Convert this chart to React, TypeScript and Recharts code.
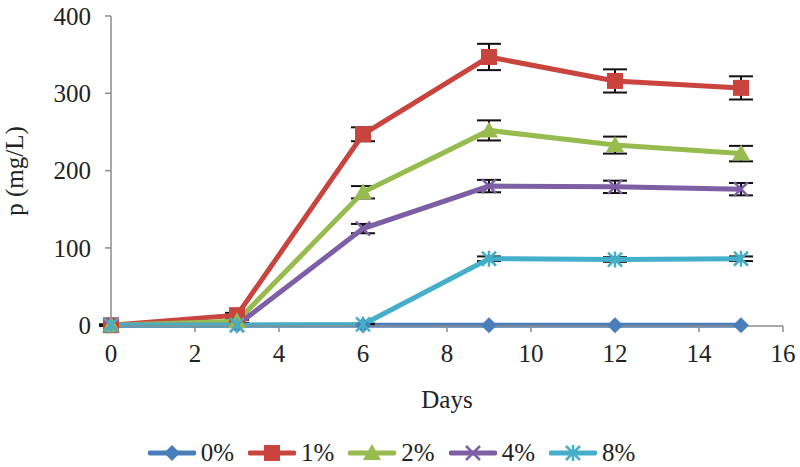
import React from "react";
import {
  LineChart,
  Line,
  XAxis,
  YAxis,
  ErrorBar,
  Legend,
} from "recharts";

const days = [0, 3, 6, 9, 12, 15];

const p0 = [0, 0, 0, 0, 0, 0];
const p1 = [0, 13, 247, 347, 316, 307];
const p2 = [0, 5, 172, 252, 233, 222];
const p4 = [0, 0, 125, 180, 179, 176];
const p8 = [0, 0, 1, 86, 85, 86];

const e0 = [0, 0, 0, 0, 0, 0];
const e1 = [1, 3, 9, 17, 15, 15];
const e2 = [1, 2, 8, 13, 11, 10];
const e4 = [0, 0, 6, 8, 8, 8];
const e8 = [0, 0, 1, 3, 3, 3];

const xTicks = [0, 2, 4, 6, 8, 10, 12, 14, 16];
const yTicks = [0, 100, 200, 300, 400];

type Shape = "diamond" | "square" | "triangle" | "x" | "star";

const series: { key: string; err: string; label: string; color: string; shape: Shape }[] = [
  { key: "p0", err: "e0", label: "0%", color: "#4a7ebb", shape: "diamond" },
  { key: "p1", err: "e1", label: "1%", color: "#c9443f", shape: "square" },
  { key: "p2", err: "e2", label: "2%", color: "#98bb4f", shape: "triangle" },
  { key: "p4", err: "e4", label: "4%", color: "#7d5fa5", shape: "x" },
  { key: "p8", err: "e8", label: "8%", color: "#45aec8", shape: "star" },
];

const data = days.map((d, i) => ({
  day: d,
  p0: p0[i],
  p1: p1[i],
  p2: p2[i],
  p4: p4[i],
  p8: p8[i],
  e0: e0[i],
  e1: e1[i],
  e2: e2[i],
  e4: e4[i],
  e8: e8[i],
}));

const FONT = "'Liberation Serif', 'DejaVu Serif', serif";

function Marker({ cx, cy, shape, color }: { cx: number; cy: number; shape: Shape; color: string }) {
  if (cx == null || cy == null) return null;
  switch (shape) {
    case "diamond":
      return (
        <polygon
          points={`${cx},${cy - 8} ${cx + 8},${cy} ${cx},${cy + 8} ${cx - 8},${cy}`}
          fill={color}
        />
      );
    case "square":
      return <rect x={cx - 8} y={cy - 8} width={16} height={16} fill={color} />;
    case "triangle":
      return (
        <polygon
          points={`${cx},${cy - 9} ${cx + 9},${cy + 7} ${cx - 9},${cy + 7}`}
          fill={color}
        />
      );
    case "x":
      return (
        <g stroke={color} strokeWidth={2.5}>
          <line x1={cx - 7} y1={cy - 7} x2={cx + 7} y2={cy + 7} />
          <line x1={cx - 7} y1={cy + 7} x2={cx + 7} y2={cy - 7} />
        </g>
      );
    case "star":
      return (
        <g stroke={color} strokeWidth={2.5}>
          <line x1={cx - 7} y1={cy - 7} x2={cx + 7} y2={cy + 7} />
          <line x1={cx - 7} y1={cy + 7} x2={cx + 7} y2={cy - 7} />
          <line x1={cx} y1={cy - 8} x2={cx} y2={cy + 8} />
        </g>
      );
  }
  return null;
}

function LegendContent() {
  return (
    <div
      style={{
        display: "flex",
        justifyContent: "center",
        alignItems: "center",
        height: 34,
        paddingTop: 6,
        paddingLeft: 14,
        boxSizing: "border-box",
        fontFamily: FONT,
        fontSize: 25,
        color: "#222",
      }}
    >
      {series.map((s) => (
        <div key={s.key} style={{ display: "flex", alignItems: "center", marginRight: 14 }}>
          <svg width={48} height={20}>
            <line x1={2} y1={10} x2={46} y2={10} stroke={s.color} strokeWidth={5} strokeLinecap="round" />
            <Marker cx={24} cy={10} shape={s.shape} color={s.color} />
          </svg>
          <span style={{ marginLeft: 5, fontFamily: FONT, fontSize: 25 }}>{s.label}</span>
        </div>
      ))}
    </div>
  );
}

export default function App() {
  return (
    <div style={{ position: "absolute", left: 0, top: 0, background: "#fff" }}>
      <LineChart
        width={800}
        height={467}
        data={data}
        margin={{ top: 16, right: 17, left: 0, bottom: 0 }}
      >
        <XAxis
          dataKey="day"
          type="number"
          domain={[0, 16]}
          ticks={xTicks}
          interval={0}
          height={107}
          tickMargin={12}
          tick={{ fontSize: 25, fill: "#222", fontFamily: FONT }}
          stroke="#8c8c8c"
          strokeWidth={1.5}
          label={{
            value: "Days",
            position: "insideBottom",
            offset: 25,
            style: { fontSize: 25, fill: "#222", fontFamily: FONT },
          }}
        />
        <YAxis
          type="number"
          domain={[0, 400]}
          ticks={yTicks}
          interval={0}
          width={111}
          tickMargin={14}
          tick={{ fontSize: 25, fill: "#222", fontFamily: FONT }}
          stroke="#8c8c8c"
          strokeWidth={1.5}
          label={{
            value: "p (mg/L)",
            angle: -90,
            position: "insideLeft",
            offset: 14,
            style: { fontSize: 25, fill: "#222", fontFamily: FONT, textAnchor: "middle" },
          }}
        />
        <Legend verticalAlign="bottom" align="center" content={<LegendContent />} />
        {series.map((s) => (
          <Line
            key={s.key}
            dataKey={s.key}
            name={s.label}
            type="linear"
            stroke={s.color}
            strokeWidth={5}
            isAnimationActive={false}
            dot={(props: any) => (
              <Marker key={`${s.key}-${props.index}`} cx={props.cx} cy={props.cy} shape={s.shape} color={s.color} />
            )}
            activeDot={false}
          >
            <ErrorBar dataKey={s.err} direction="y" width={12} stroke="#111" strokeWidth={2} />
          </Line>
        ))}
      </LineChart>
    </div>
  );
}
